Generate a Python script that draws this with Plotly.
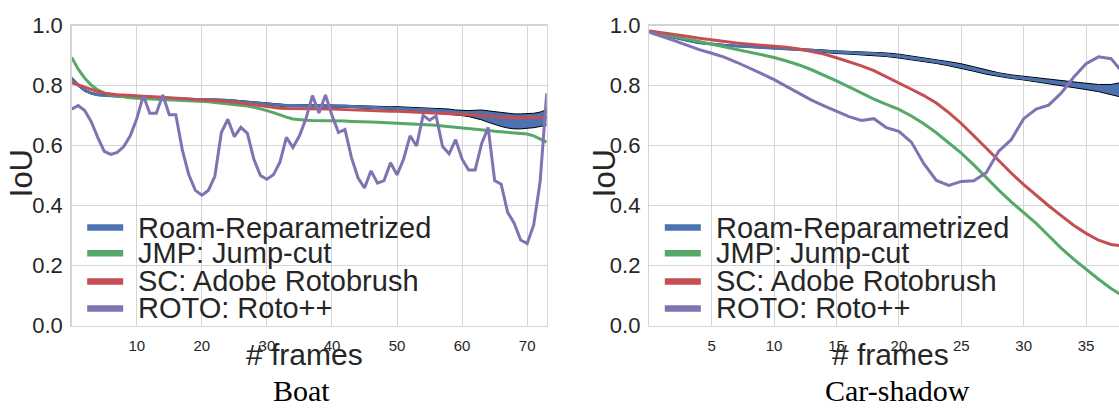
import plotly.graph_objects as go

# ---------------- data ----------------
methods = ["Roam-Reparametrized", "JMP: Jump-cut", "SC: Adobe Rotobrush", "ROTO: Roto++"]
colors = ["#4C72B0", "#55A868", "#C44E52", "#8172B2"]
titles = ["Boat", "Car-shadow"]

boat_frames = list(range(0, 74))
boat_roam_hi = [0.828, 0.805, 0.788, 0.778, 0.772, 0.769, 0.768, 0.767, 0.766, 0.765,
                0.764, 0.763, 0.762, 0.761, 0.760, 0.759, 0.758, 0.758, 0.757, 0.756,
                0.756, 0.756, 0.756, 0.755, 0.754, 0.752, 0.750, 0.748, 0.746, 0.744,
                0.742, 0.740, 0.738, 0.737, 0.737, 0.737, 0.737, 0.737, 0.736, 0.736,
                0.736, 0.735, 0.735, 0.734, 0.733, 0.732, 0.732, 0.731, 0.731, 0.730,
                0.730, 0.729, 0.729, 0.728, 0.728, 0.727, 0.726, 0.724, 0.722, 0.719,
                0.717, 0.717, 0.718, 0.719, 0.716, 0.713, 0.710, 0.707, 0.706, 0.706,
                0.707, 0.708, 0.712, 0.720]
boat_roam_lo = [0.822, 0.798, 0.781, 0.772, 0.767, 0.765, 0.764, 0.763, 0.762, 0.761,
                0.760, 0.759, 0.758, 0.757, 0.756, 0.755, 0.754, 0.753, 0.752, 0.751,
                0.751, 0.751, 0.750, 0.749, 0.748, 0.746, 0.744, 0.742, 0.740, 0.737,
                0.735, 0.733, 0.731, 0.730, 0.730, 0.730, 0.730, 0.730, 0.730, 0.729,
                0.729, 0.728, 0.728, 0.727, 0.726, 0.725, 0.725, 0.724, 0.723, 0.722,
                0.722, 0.720, 0.718, 0.716, 0.714, 0.712, 0.710, 0.708, 0.705, 0.703,
                0.700, 0.697, 0.692, 0.686, 0.678, 0.670, 0.664, 0.659, 0.656, 0.656,
                0.657, 0.660, 0.664, 0.668]
boat_jmp = [0.894, 0.855, 0.825, 0.802, 0.786, 0.776, 0.770, 0.766, 0.763, 0.760,
            0.758, 0.757, 0.756, 0.755, 0.754, 0.753, 0.753, 0.752, 0.751, 0.749,
            0.748, 0.746, 0.744, 0.742, 0.740, 0.738, 0.735, 0.732, 0.728, 0.723,
            0.717, 0.710, 0.702, 0.695, 0.689, 0.686, 0.685, 0.684, 0.684, 0.683,
            0.683, 0.682, 0.682, 0.681, 0.681, 0.680, 0.679, 0.678, 0.677, 0.676,
            0.675, 0.674, 0.674, 0.673, 0.672, 0.670, 0.668, 0.666, 0.664, 0.663,
            0.661, 0.659, 0.657, 0.654, 0.651, 0.648, 0.646, 0.645, 0.643, 0.641,
            0.639, 0.633, 0.623, 0.612]
boat_sc = [0.810, 0.802, 0.794, 0.786, 0.780, 0.775, 0.772, 0.770, 0.769, 0.767,
           0.766, 0.765, 0.764, 0.763, 0.762, 0.760, 0.759, 0.758, 0.756, 0.754,
           0.753, 0.751, 0.750, 0.749, 0.747, 0.745, 0.742, 0.739, 0.736, 0.732,
           0.729, 0.727, 0.725, 0.724, 0.724, 0.724, 0.723, 0.723, 0.722, 0.722,
           0.722, 0.721, 0.720, 0.719, 0.718, 0.717, 0.717, 0.716, 0.716, 0.715,
           0.715, 0.714, 0.713, 0.712, 0.712, 0.711, 0.710, 0.709, 0.708, 0.706,
           0.705, 0.703, 0.702, 0.700, 0.698, 0.696, 0.694, 0.694, 0.693, 0.693,
           0.693, 0.694, 0.694, 0.695]
boat_roto = [0.722, 0.734, 0.717, 0.680, 0.628, 0.581, 0.571, 0.578, 0.597, 0.633,
             0.690, 0.767, 0.708, 0.708, 0.769, 0.703, 0.703, 0.586, 0.503, 0.451,
             0.435, 0.451, 0.498, 0.644, 0.688, 0.630, 0.661, 0.641, 0.555, 0.501,
             0.488, 0.503, 0.545, 0.628, 0.594, 0.633, 0.690, 0.767, 0.709, 0.769,
             0.701, 0.644, 0.654, 0.560, 0.493, 0.459, 0.516, 0.475, 0.484, 0.543,
             0.503, 0.555, 0.633, 0.599, 0.701, 0.685, 0.699, 0.597, 0.573, 0.620,
             0.555, 0.519, 0.519, 0.607, 0.661, 0.484, 0.472, 0.378, 0.342, 0.286,
             0.274, 0.336, 0.482, 0.774]

car_frames = list(range(0, 39))
car_roam_hi = [0.982, 0.972, 0.962, 0.953, 0.945, 0.940, 0.937, 0.934, 0.932, 0.930,
               0.929, 0.927, 0.925, 0.922, 0.919, 0.916, 0.914, 0.913, 0.912, 0.909,
               0.905, 0.899, 0.894, 0.887, 0.880, 0.873, 0.863, 0.852, 0.843, 0.836,
               0.831, 0.827, 0.823, 0.818, 0.813, 0.808, 0.804, 0.804, 0.812]
car_roam_lo = [0.978, 0.968, 0.958, 0.949, 0.941, 0.936, 0.933, 0.930, 0.928, 0.926,
               0.924, 0.921, 0.918, 0.914, 0.910, 0.907, 0.905, 0.903, 0.901, 0.897,
               0.892, 0.886, 0.881, 0.874, 0.866, 0.858, 0.848, 0.838, 0.830, 0.824,
               0.819, 0.813, 0.806, 0.800, 0.794, 0.787, 0.780, 0.770, 0.760]
car_jmp = [0.982, 0.973, 0.964, 0.955, 0.946, 0.938, 0.929, 0.920, 0.911, 0.903,
           0.894, 0.882, 0.869, 0.853, 0.835, 0.816, 0.796, 0.775, 0.755, 0.738,
           0.721, 0.699, 0.673, 0.643, 0.610, 0.575, 0.536, 0.493, 0.452, 0.413,
           0.376, 0.341, 0.300, 0.259, 0.222, 0.187, 0.155, 0.124, 0.098]
car_sc = [0.982, 0.977, 0.971, 0.965, 0.958, 0.952, 0.947, 0.942, 0.938, 0.935,
          0.932, 0.928, 0.922, 0.914, 0.905, 0.893, 0.880, 0.866, 0.850, 0.830,
          0.808, 0.788, 0.767, 0.742, 0.710, 0.674, 0.633, 0.591, 0.550, 0.509,
          0.470, 0.434, 0.400, 0.367, 0.335, 0.308, 0.285, 0.271, 0.266]
car_roto = [0.978, 0.965, 0.950, 0.935, 0.920, 0.908, 0.895, 0.878, 0.860, 0.840,
            0.820, 0.797, 0.774, 0.752, 0.733, 0.715, 0.697, 0.684, 0.690, 0.660,
            0.648, 0.612, 0.540, 0.484, 0.468, 0.481, 0.483, 0.510, 0.582, 0.620,
            0.690, 0.722, 0.735, 0.775, 0.828, 0.873, 0.896, 0.890, 0.840]

y_ticks = [0.0, 0.2, 0.4, 0.6, 0.8, 1.0]
boat_xticks = [10, 20, 30, 40, 50, 60, 70]
car_xticks = [5, 10, 15, 20, 25, 30, 35]

# ---------------- layout helpers ----------------
W, H = 1119, 419
def fx(px):
    return px / W
def fy(py):
    return 1 - py / H

SANS = "Liberation Sans, Arial, sans-serif"
SERIF = "Liberation Serif, Times New Roman, serif"
TXT = "#262626"
GRID = "#d5d5d5"

fig = go.Figure()

panels = [
    dict(frames=boat_frames, hi=boat_roam_hi, lo=boat_roam_lo, jmp=boat_jmp, sc=boat_sc,
         roto=boat_roto, xa="x", ya="y"),
    dict(frames=car_frames, hi=car_roam_hi, lo=car_roam_lo, jmp=car_jmp, sc=car_sc,
         roto=car_roto, xa="x2", ya="y2"),
]

for p in panels:
    mean = [(a + b) / 2 for a, b in zip(p["hi"], p["lo"])]
    common = dict(xaxis=p["xa"], yaxis=p["ya"], showlegend=False, mode="lines",
                  hoverinfo="skip")
    fig.add_trace(go.Scatter(x=p["frames"], y=p["lo"], line=dict(color="black", width=1),
                             **common))
    fig.add_trace(go.Scatter(x=p["frames"], y=p["hi"], line=dict(color="black", width=1),
                             fill="tonexty", fillcolor=colors[0], **common))
    fig.add_trace(go.Scatter(x=p["frames"], y=mean, line=dict(color=colors[0], width=3),
                             name=methods[0], **common))
    fig.add_trace(go.Scatter(x=p["frames"], y=p["jmp"], line=dict(color=colors[1], width=3),
                             name=methods[1], **common))
    fig.add_trace(go.Scatter(x=p["frames"], y=p["sc"], line=dict(color=colors[2], width=3),
                             name=methods[2], **common))
    fig.add_trace(go.Scatter(x=p["frames"], y=p["roto"], line=dict(color=colors[3], width=3),
                             name=methods[3], **common))

# plot areas in pixels
left_box = (71.7, 546.7)
right_box = (649.3, 1119.0)
top_px, bot_px = 14.5, 333.7
right_range_max = (right_box[1] - right_box[0]) / 12.48

axis_common = dict(showgrid=True, gridcolor=GRID, gridwidth=1, zeroline=False,
                   showline=True, linecolor=GRID, linewidth=1.5, ticks="")

fig.update_layout(
    width=W, height=H, autosize=False,
    margin=dict(l=0, r=0, t=0, b=0),
    paper_bgcolor="white", plot_bgcolor="white",
    xaxis=dict(domain=[fx(left_box[0]), fx(left_box[1])], range=[0, 73],
               tickvals=boat_xticks, tickfont=dict(family=SANS, size=15, color=TXT),
               ticklabelstandoff=6, mirror=True, anchor="y", **axis_common),
    yaxis=dict(domain=[fy(bot_px), fy(top_px)], range=[0, 1], tickvals=y_ticks,
               tickformat=".1f", tickfont=dict(family=SANS, size=22, color=TXT),
               ticklabelstandoff=3, mirror=True, anchor="x", **axis_common),
    xaxis2=dict(domain=[fx(right_box[0]), 1.0], range=[0, right_range_max],
                tickvals=car_xticks, tickfont=dict(family=SANS, size=15, color=TXT),
                ticklabelstandoff=6, mirror=True, anchor="y2", **axis_common),
    yaxis2=dict(domain=[fy(bot_px), fy(top_px)], range=[0, 1], tickvals=y_ticks,
                tickformat=".1f", tickfont=dict(family=SANS, size=22, color=TXT),
                ticklabelstandoff=3, mirror=False, anchor="x2", **axis_common),
)

annotations = []
shapes = []

# axis titles and panel titles
for cx_frames, cx_iou, cx_title, title in [(304.2, 21.5, 301.3, titles[0]),
                                           (890.0, 604.5, 897.8, titles[1])]:
    annotations.append(dict(text="# frames", x=fx(cx_frames), y=fy(364), xref="paper",
                            yref="paper", xanchor="center", yanchor="middle",
                            showarrow=False, font=dict(family=SANS, size=30, color=TXT)))
    annotations.append(dict(text="IoU", x=fx(cx_iou), y=fy(172), xref="paper",
                            yref="paper", xanchor="center", yanchor="middle",
                            textangle=-90, showarrow=False,
                            font=dict(family=SANS, size=31, color=TXT)))
    annotations.append(dict(text=title, x=fx(cx_title), y=fy(403), xref="paper",
                            yref="paper", xanchor="center", yanchor="middle",
                            showarrow=False, font=dict(family=SERIF, size=30, color="black")))

# manual legends (compact row spacing as in the reference)
row_px = [229.3, 256.6, 286.5, 315.2]
for x0 in (left_box[0], right_box[0]):
    for i, name in enumerate(methods):
        yy = fy(row_px[i])
        shapes.append(dict(type="line", xref="paper", yref="paper",
                           x0=fx(x0 + 15.5), x1=fx(x0 + 51.5), y0=yy, y1=yy,
                           line=dict(color=colors[i], width=6.5), layer="above"))
        annotations.append(dict(text=name, x=fx(x0 + 64.5), y=yy, xref="paper",
                                yref="paper", xanchor="left", yanchor="middle",
                                showarrow=False,
                                font=dict(family=SANS, size=29, color=TXT)))

fig.update_layout(annotations=annotations, shapes=shapes)

fig.write_html(
    "out.html",
    config={"displayModeBar": False, "staticPlot": True},
    post_script="document.body.style.margin='0px';document.body.style.overflow='hidden';",
)
